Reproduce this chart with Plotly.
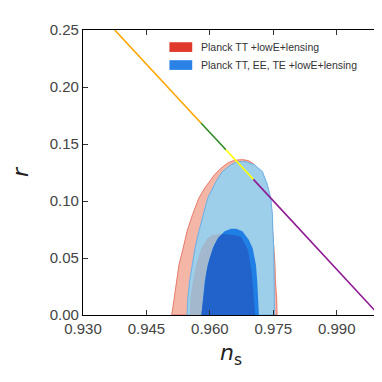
import numpy as np
import plotly.graph_objects as go

# TT +lowE+lensing, 95% contour
tt_2s_ns = [0.9510, 0.9516, 0.9521, 0.9527, 0.9537, 0.9546, 0.9559, 0.9574, 0.9588, 0.9599,
            0.9611, 0.9627, 0.9642, 0.9658, 0.9677, 0.9690, 0.9701, 0.9716, 0.9728, 0.9736,
            0.9741, 0.9746, 0.9749, 0.9752, 0.9754, 0.9755, 0.9758, 0.9759]
tt_2s_r = [0.0, 0.0149, 0.0295, 0.044, 0.0588, 0.0734, 0.088, 0.1026, 0.1114, 0.1173,
           0.1231, 0.1289, 0.1333, 0.1357, 0.1363, 0.1355, 0.1333, 0.1275, 0.1202, 0.1114,
           0.1026, 0.088, 0.0734, 0.0588, 0.044, 0.0295, 0.0149, 0.0]

# TT,TE,EE +lowE+lensing, 95% contour
all_2s_ns = [0.9546, 0.9548, 0.9552, 0.9559, 0.9565, 0.9574, 0.9584, 0.9595, 0.9615, 0.9630,
             0.9650, 0.9666, 0.9685, 0.9705, 0.9724, 0.9736, 0.9744, 0.9748, 0.9749, 0.9751,
             0.9752, 0.9753]
all_2s_r = [0.0, 0.0149, 0.0295, 0.044, 0.0588, 0.0734, 0.088, 0.1026, 0.1173, 0.1260,
            0.1318, 0.1345, 0.1345, 0.1318, 0.1260, 0.1144, 0.1026, 0.088, 0.0734, 0.0588,
            0.0295, 0.0]

# TT +lowE+lensing, 68% contour
tt_1s_ns = [0.9552, 0.9554, 0.9560, 0.9568, 0.9580, 0.9595, 0.9607, 0.9630, 0.9650, 0.9673,
            0.9689, 0.9697, 0.9701, 0.9705, 0.9707]
tt_1s_r = [0.0, 0.0149, 0.0295, 0.044, 0.0588, 0.0675, 0.0705, 0.0712, 0.0705, 0.069,
           0.0588, 0.044, 0.0295, 0.0149, 0.0]

# TT,TE,EE +lowE+lensing, 68% contour
all_1s_ns = [0.9580, 0.9588, 0.9595, 0.9607, 0.9619, 0.9635, 0.9650, 0.9662, 0.9677, 0.9692,
             0.9701, 0.9709, 0.9712, 0.9716]
all_1s_r = [0.0, 0.0295, 0.044, 0.0588, 0.0675, 0.0734, 0.0757, 0.0757, 0.0734, 0.0660,
            0.0588, 0.044, 0.0295, 0.0]

# model line, split into coloured segments
line_ns = [0.9375, 0.9579, 0.9638, 0.9703, 1.0]
line_r = [0.25, 0.1684, 0.145, 0.119, 0.0]
line_colors = ['#FFA500', '#2E8B22', '#FFFF00', '#8E1A94']

legend_labels = ['Planck TT +lowE+lensing', 'Planck TT, EE, TE +lowE+lensing']
legend_colors = ['#E0382A', '#2A82E6']

font_ticks = 'Liberation Sans, Arial, sans-serif'


def closed(xs, ys):
    return list(xs) + [xs[0]], list(ys) + [ys[0]]


fig = go.Figure()


def add_region(xs, ys, fill, edge=None, width=0):
    x, y = closed(xs, ys)
    fig.add_trace(go.Scatter(x=x, y=y, mode='lines', fill='toself', fillcolor=fill,
                             line=dict(color=edge or fill, width=width),
                             hoverinfo='skip', showlegend=False))


add_region(tt_2s_ns, tt_2s_r, '#F4B6A6', '#E8796A', 1)
add_region(all_2s_ns, all_2s_r, '#9DCEEA', '#6BB0E6', 1)
add_region(tt_1s_ns, tt_1s_r, '#A3B8CC')
add_region(all_1s_ns, all_1s_r, '#1F7FE4')

# overlap of the two 68% regions
lo = max(tt_1s_ns[0], all_1s_ns[0])
hi = min(tt_1s_ns[-1], all_1s_ns[-1])
grid = np.linspace(lo, hi, 300)
top = np.minimum(np.interp(grid, tt_1s_ns, tt_1s_r), np.interp(grid, all_1s_ns, all_1s_r))
ov_x = [lo] + list(grid) + [hi]
ov_y = [0.0] + list(top) + [0.0]
add_region(ov_x, ov_y, '#2163CA')

for i, c in enumerate(line_colors):
    fig.add_trace(go.Scatter(x=line_ns[i:i + 2], y=line_r[i:i + 2], mode='lines',
                             line=dict(color=c, width=1.6), hoverinfo='skip', showlegend=False))

# legend drawn by hand (matplotlib-style patches)
for i, (lab, col) in enumerate(zip(legend_labels, legend_colors)):
    y0 = 0.94 - i * 0.063
    fig.add_shape(type='rect', xref='paper', yref='paper', x0=0.292, x1=0.369,
                  y0=y0 - 0.017, y1=y0 + 0.017, fillcolor=col, line=dict(width=0))
    fig.add_annotation(text=lab, xref='paper', yref='paper', x=0.392, y=y0,
                       xanchor='left', yanchor='middle', showarrow=False,
                       font=dict(family=font_ticks, size=10.5, color='#333333'))

axis_common = dict(showline=True, linecolor='black', linewidth=1.2, mirror='ticks',
                   ticks='inside', ticklen=5, tickcolor='#333333', showgrid=False,
                   zeroline=False, tickfont=dict(family=font_ticks, size=15, color='#444444'))

fig.update_xaxes(range=[0.93, 1.0], tickvals=[0.930, 0.945, 0.960, 0.975, 0.990],
                 ticktext=['0.930', '0.945', '0.960', '0.975', '0.990'],
                 title=dict(text='<i>n</i><sub>s</sub>', font=dict(family='DejaVu Sans', size=22,
                                                                color='#222222'), standoff=8),
                 **axis_common)
fig.update_yaxes(range=[0, 0.25], tickvals=[0.0, 0.05, 0.10, 0.15, 0.20, 0.25],
                 ticktext=['0.00', '0.05', '0.10', '0.15', '0.20', '0.25'],
                 title=dict(text='<i>r</i>', font=dict(family='DejaVu Sans', size=22,
                                                       color='#222222'), standoff=16),
                 **axis_common)

fig.update_layout(width=382, height=382, margin=dict(l=74, r=10, t=22, b=75),
                  plot_bgcolor='white', paper_bgcolor='white')

fig.write_html("out.html")
